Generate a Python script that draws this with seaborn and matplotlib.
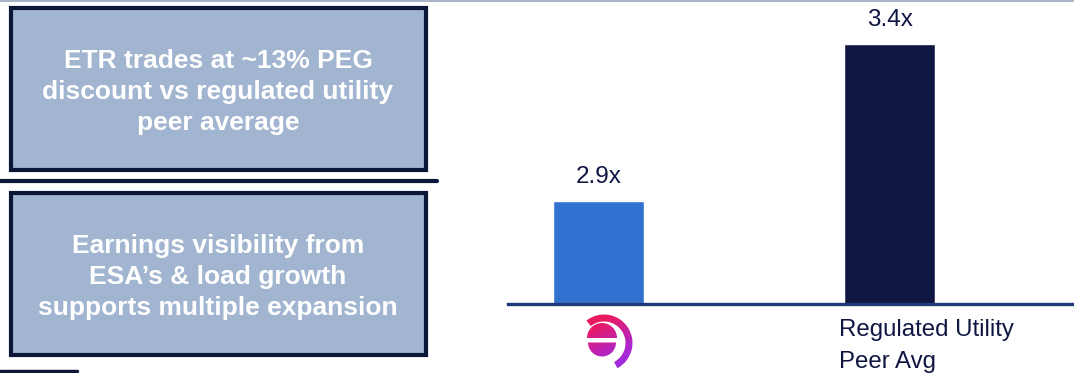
import numpy as np
import matplotlib
matplotlib.use("Agg")
import matplotlib.pyplot as plt
import seaborn as sns
from matplotlib.patches import Rectangle, Wedge, PathPatch
from matplotlib.path import Path
from matplotlib.lines import Line2D
from matplotlib.colors import LinearSegmentedColormap

# ---- data ----
categories = ["Entergy", "Regulated Utility\nPeer Avg"]
values = [2.9, 3.4]
bar_colors = ["#3172d1", "#0f1642"]
value_labels = ["2.9x", "3.4x"]
box_texts = [
    "ETR trades at ~13% PEG\ndiscount vs regulated utility\npeer average",
    "Earnings visibility from\nESA\u2019s & load growth\nsupports multiple expansion",
]

sns.set_theme(style="white")
plt.rcParams["font.family"] = ["Liberation Sans", "DejaVu Sans"]

W, H = 1074, 373
fig = plt.figure(figsize=(W / 100, H / 100), dpi=100)
fig.patch.set_facecolor("white")


def fx(x):
    return x / W


def fy(y):
    return 1 - y / H


NAVY = "#0b1638"
BOXFILL = "#a1b5d0"

# top thin line
fig.add_artist(Line2D([0, 1], [fy(0.7), fy(0.7)], color="#9aa3bd", lw=1.2,
                      transform=fig.transFigure))

# boxes
for (y0, y1), txt in zip([(8, 170), (193, 355)], box_texts):
    fig.add_artist(Rectangle((fx(11), fy(y1)), fx(426) - fx(11), fy(y0) - fy(y1),
                             transform=fig.transFigure, facecolor=BOXFILL,
                             edgecolor=NAVY, lw=3.0))
    fig.text(fx(218), fy((y0 + y1) / 2 + 3), txt, ha="center", va="center",
             color="white", fontsize=19, fontweight="bold", linespacing=1.37)

# separator rules
fig.add_artist(Line2D([0, fx(437)], [fy(180.5), fy(180.5)], color=NAVY, lw=3.0,
                      transform=fig.transFigure))
fig.add_artist(Line2D([0, fx(77)], [fy(371), fy(371)], color=NAVY, lw=2.5,
                      transform=fig.transFigure))

# ---- bar chart ----
ax_left, ax_right, ax_top, ax_base = 508, 1074, 0, 304
ax = fig.add_axes([fx(ax_left), fy(ax_base), fx(ax_right - ax_left), (ax_base - ax_top) / H])
sns.barplot(x=categories, y=values, hue=categories, palette=bar_colors,
            legend=False, width=0.312, ax=ax, saturation=1)
ax.set_xlim(-0.31, 1.632)
ax.set_ylim(2.572, 3.540)
for s in ["top", "left", "right"]:
    ax.spines[s].set_visible(False)
ax.spines["bottom"].set_color("#1f3a7a")
ax.spines["bottom"].set_linewidth(2.4)
ax.set_xticks([])
ax.set_yticks([])
ax.set_xlabel("")
ax.set_ylabel("")
ax.patch.set_alpha(0)

for cont, lab in zip(ax.containers, value_labels):
    ax.bar_label(cont, labels=[lab], padding=9, fontsize=17.5, color="#0f1642")

# category label for peer bar (left aligned)
ax.text(1 - 0.312 / 2 - 0.017, -0.048, categories[1], transform=ax.get_xaxis_transform(),
        ha="left", va="top", fontsize=17.3, color="#0f1642", linespacing=1.62,
        clip_on=False)

# ---- logo (stylised "e") ----
lx0, lx1, ly0, ly1 = 570, 640, 305, 373
lax = fig.add_axes([fx(lx0), fy(ly1), fx(lx1 - lx0), (ly1 - ly0) / H])
lax.set_xlim(lx0, lx1)
lax.set_ylim(-ly1, -ly0)
lax.axis("off")
pieces = [
    Wedge((602, -338), 15, 0, 180),
    Wedge((602, -342.5), 14, 180, 360),
    Wedge((604, -343), 28.5, -62, 128, width=7),
]
paths = [p.get_patch_transform().transform_path(p.get_path()) for p in pieces]
comp = Path.make_compound_path(*paths)
clip = PathPatch(comp, transform=lax.transData, facecolor="none", edgecolor="none")
lax.add_patch(clip)
cmap = LinearSegmentedColormap.from_list("logo", ["#f71848", "#e81a66", "#b126c8", "#8f2ff5"])
gx, gy = np.meshgrid(np.linspace(0, 1, 100), np.linspace(0, 1, 100))
grad = 0.35 * gx + 0.65 * gy
im = lax.imshow(grad, extent=(lx0, lx1, -ly1, -ly0), origin="upper", cmap=cmap,
                aspect="auto", interpolation="bilinear")
im.set_clip_path(clip)

fig.savefig("out.png", dpi=100)
